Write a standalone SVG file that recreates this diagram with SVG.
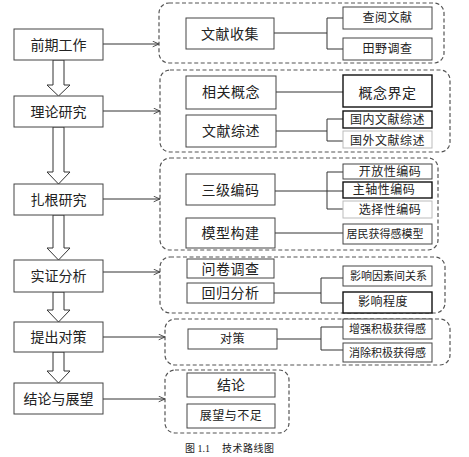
<svg xmlns="http://www.w3.org/2000/svg" width="469" height="457" viewBox="0 0 469 457">
<style>
.bg{fill:#fff}
.box{fill:#fff;stroke:#444;stroke-width:1}
.bold{fill:#fff;stroke:#111;stroke-width:1.4}
.light{fill:#fff;stroke:#bbb;stroke-width:1}
.grp{fill:none;stroke:#555;stroke-width:1.2;stroke-dasharray:4 2.5}
.t{font-family:"Liberation Sans","Noto Sans CJK SC",sans-serif;fill:#222;text-anchor:middle;dominant-baseline:central}
.l{font-size:14px}
.m{font-size:14px;letter-spacing:0.5px}
.s{font-size:12px;letter-spacing:0.5px}
.xs{font-size:11px}
.con{fill:none;stroke:#333;stroke-width:1}
.blk{fill:#fff;stroke:#333;stroke-width:1}
.cap{font-family:"Liberation Serif","Noto Sans CJK SC",serif;font-size:10px;fill:#222}
</style>
<defs>
<marker id="ah" viewBox="0 0 10 10" refX="10" refY="5" markerWidth="7" markerHeight="7" orient="auto" markerUnits="userSpaceOnUse">
<path d="M1,1 L10,5 L1,9" fill="none" stroke="#333" stroke-width="1.2"/>
</marker>
</defs>
<rect class="bg" width="469" height="457"/>

<g id="connectors">
<path class="blk" d="M53,60 L64,60 L64,85 L70,85 L58.5,96 L47,85 L53,85 Z"/>
<path class="blk" d="M53,127 L64,127 L64,172 L70,172 L58.5,184 L47,172 L53,172 Z"/>
<path class="blk" d="M53,215 L64,215 L64,248 L70,248 L58.5,260 L47,248 L53,248 Z"/>
<path class="blk" d="M53,292 L64,292 L64,310 L70,310 L58.5,322 L47,310 L53,310 Z"/>
<path class="blk" d="M53,352 L64,352 L64,371 L70,371 L58.5,383 L47,371 L53,371 Z"/>
<line class="con" x1="103" y1="44" x2="159" y2="44" marker-end="url(#ah)"/>
<line class="con" x1="103" y1="111" x2="160" y2="111" marker-end="url(#ah)"/>
<line class="con" x1="103" y1="199" x2="160" y2="199" marker-end="url(#ah)"/>
<line class="con" x1="103" y1="272" x2="160" y2="272" marker-end="url(#ah)"/>
<line class="con" x1="103" y1="337" x2="165" y2="337" marker-end="url(#ah)"/>
<line class="con" x1="103" y1="399" x2="165" y2="399" marker-end="url(#ah)"/>
<path class="con" d="M274,33 H327 M327,18 V49 M327,18 H343 M327,49 H343"/>
<path class="con" d="M276,92 H343"/>
<path class="con" d="M276,131 H327 M327,119 V141 M327,119 H343 M327,141 H343"/>
<path class="con" d="M275,191 H343 M327,172 V209 M327,172 H343 M327,209 H343"/>
<path class="con" d="M275,233 H343"/>
<path class="con" d="M274,293 H321 M321,278 V303 M321,278 H343 M321,303 H343"/>
<path class="con" d="M277,339 H321 M321,327 V350 M321,327 H343 M321,350 H343"/>
</g>

<g id="g1"><rect class="grp" x="159" y="3" width="285" height="60" rx="10"/></g>
<g id="g2"><rect class="grp" x="160" y="70" width="290" height="82" rx="10"/></g>
<g id="g3"><rect class="grp" x="160" y="158" width="278" height="92" rx="10"/></g>
<g id="g4"><rect class="grp" x="160" y="257" width="285" height="56" rx="10"/></g>
<g id="g5"><rect class="grp" x="165" y="319" width="285" height="46" rx="10"/></g>
<g id="g6"><rect class="grp" x="165" y="370" width="124" height="63" rx="10"/></g>

<g id="n-qqgz"><rect class="box" x="14" y="29" width="89" height="31"/><text class="t l" x="58.5" y="45">前期工作</text></g>
<g id="n-llyj"><rect class="box" x="14" y="96" width="89" height="31"/><text class="t l" x="58.5" y="112">理论研究</text></g>
<g id="n-zgyj"><rect class="box" x="14" y="184" width="89" height="31"/><text class="t l" x="58.5" y="200">扎根研究</text></g>
<g id="n-szfx"><rect class="box" x="14" y="260" width="89" height="32"/><text class="t l" x="58.5" y="276">实证分析</text></g>
<g id="n-tcdc"><rect class="box" x="14" y="322" width="89" height="30"/><text class="t l" x="58.5" y="337">提出对策</text></g>
<g id="n-jlyzw"><rect class="box" x="14" y="383" width="89" height="31"/><text class="t l" x="58.5" y="399">结论与展望</text></g>

<g id="n-wxsj"><rect class="box" x="186" y="18" width="88" height="31"/><text class="t m" x="230" y="34">文献收集</text></g>
<g id="n-cywx"><rect class="box" x="343" y="7" width="89" height="22"/><text class="t s" x="387.5" y="18">查阅文献</text></g>
<g id="n-tydc"><rect class="box" x="343" y="38" width="89" height="22"/><text class="t s" x="387.5" y="49">田野调查</text></g>

<g id="n-xggn"><rect class="box" x="186" y="76" width="90" height="33"/><text class="t m" x="231" y="92">相关概念</text></g>
<g id="n-gnjd"><rect class="bold" x="343" y="75" width="89" height="32"/><text class="t m" x="387.5" y="93">概念界定</text></g>
<g id="n-wxzs"><rect class="box" x="186" y="115" width="90" height="32"/><text class="t m" x="231" y="131">文献综述</text></g>
<g id="n-gnwxzs"><rect class="bold" x="343" y="111" width="89" height="17"/><text class="t s" x="387.5" y="119.5">国内文献综述</text></g>
<g id="n-gwwxzs"><rect class="light" x="343" y="131" width="89" height="17"/><text class="t s" x="387.5" y="141">国外文献综述</text></g>

<g id="n-sjbm"><rect class="box" x="186" y="174" width="89" height="31"/><text class="t m" x="230.5" y="190">三级编码</text></g>
<g id="n-kfxbm"><rect class="box" x="343" y="164" width="89" height="15"/><text class="t s" x="390" y="172">开放性编码</text></g>
<g id="n-zzxbm"><rect class="bold" x="343" y="182" width="89" height="16"/><text class="t s" x="384" y="190">主轴性编码</text></g>
<g id="n-xzxbm"><rect class="light" x="343" y="201" width="89" height="17"/><text class="t s" x="390" y="210">选择性编码</text></g>
<g id="n-mxgj"><rect class="box" x="186" y="218" width="89" height="30"/><text class="t m" x="230.5" y="233">模型构建</text></g>
<g id="n-jmhdgmx"><rect class="box" x="343" y="224" width="89" height="20"/><text class="t xs" x="385" y="234">居民获得感模型</text></g>

<g id="n-wjdc"><rect class="box" x="187" y="259" width="87" height="19"/><text class="t m" x="230.5" y="269">问卷调查</text></g>
<g id="n-hgfx"><rect class="box" x="187" y="283" width="87" height="20"/><text class="t m" x="230.5" y="293">回归分析</text></g>
<g id="n-yxysjgx"><rect class="box" x="343" y="266" width="89" height="20"/><text class="t xs" x="388.5" y="276">影响因素间关系</text></g>
<g id="n-yxcd"><rect class="bold" x="343" y="292" width="89" height="21"/><text class="t s" x="383" y="302">影响程度</text></g>

<g id="n-dc"><rect class="box" x="188" y="329" width="89" height="20"/><text class="t s" x="232.5" y="339">对策</text></g>
<g id="n-zqjjhdg"><rect class="box" x="343" y="319" width="89" height="20"/><text class="t xs" x="387.5" y="329">增强积极获得感</text></g>
<g id="n-xcjjhdg"><rect class="box" x="343" y="343" width="89" height="19"/><text class="t xs" x="387.5" y="352.5">消除积极获得感</text></g>

<g id="n-jl"><rect class="box" x="187" y="373" width="88" height="24"/><text class="t l" x="231" y="385">结论</text></g>
<g id="n-zwybz"><rect class="box" x="187" y="404" width="88" height="24"/><text class="t s" x="231" y="416">展望与不足</text></g>

<text class="cap" x="185" y="452">图 1.1</text>
<text class="cap" x="222" y="452" letter-spacing="0.5">技术路线图</text>
</svg>
